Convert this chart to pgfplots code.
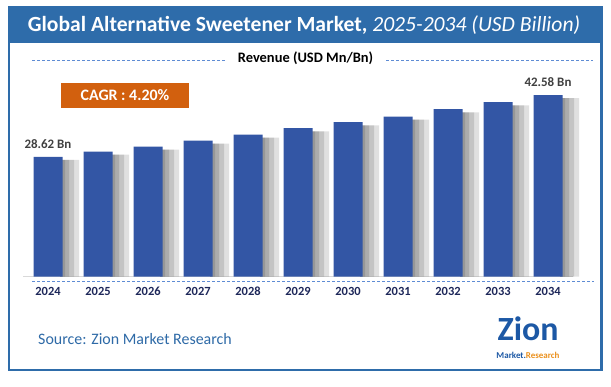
\documentclass[border=0pt]{standalone}
\usepackage{pgfplots}
\pgfplotsset{compat=1.18}
\usepackage{pgfplotstable}
\usepackage{fontspec}
\setmainfont{Carlito}
\definecolor{frameblue}{RGB}{46,108,170}
\definecolor{barblue}{RGB}{51,86,165}
\definecolor{cagr}{RGB}{210,96,14}
\definecolor{dashblue}{RGB}{95,140,212}
\definecolor{yearcol}{RGB}{30,40,90}
\definecolor{srccol}{RGB}{46,106,167}
\definecolor{logoblue}{RGB}{28,88,165}
\definecolor{logoorange}{RGB}{235,145,30}
\definecolor{labgray}{RGB}{64,64,64}

\pgfplotstableread{
x year v
0 2024 28.62
1 2025 29.78
2 2026 30.91
3 2027 32.27
4 2028 33.63
5 2029 35.07
6 2030 36.43
7 2031 37.70
8 2032 39.37
9 2033 40.96
10 2034 42.58
}\data

\pgfplotstableread[col sep=comma]{
x,v,lab
0,28.62,28.62 Bn
10,42.58,42.58 Bn
}\labs

\pgfplotsset{shadowbar/.style={ybar, draw=none, fill=black, fill opacity=0.12}}

\begin{document}
\begin{tikzpicture}[x=1bp,y=1bp]
\useasboundingbox (0,0) rectangle (611,386);
\fill[white] (0,0) rectangle (611,386);
\fill[frameblue] (9,343.3) rectangle (601.7,379);
\draw[frameblue, line width=2.5bp] (9,16) rectangle (601.7,379);
\node[anchor=west, inner sep=0, text=white] at (27.7,361)
  {\fontsize{21.7}{25}\selectfont\bfseries Global Alternative Sweetener Market, \mdseries\itshape 2025-2034 (USD Billion)};

\node[font=\fontsize{14.5}{17}\selectfont\bfseries] at (305.5,327.7) {Revenue (USD Mn/Bn)};
\draw[dashblue, dash pattern=on 3bp off 2bp, line width=0.8bp] (32,325.3) -- (225,325.3);
\draw[dashblue, dash pattern=on 3bp off 2bp, line width=0.8bp] (386,325.3) -- (593,325.3);

\fill[cagr] (61,278.3) rectangle (189,302.7);
\node[text=white, font=\fontsize{16}{18}\selectfont\bfseries] at (125,290.5) {CAGR : 4.20\%};

\begin{axis}[
  at={(23bp,109.3bp)}, anchor=south west,
  scale only axis, width=550bp, height=216.7bp,
  xmin=-0.5, xmax=10.5, ymin=1.5, ymax=50.5,
  axis y line=none, axis x line*=bottom,
  x axis line style={draw=black!15, line width=0.8bp, -},
  xtick={0,...,10},
  xticklabels={2024,2025,2026,2027,2028,2029,2030,2031,2032,2033,2034},
  major tick length=0,
  xticklabel style={font=\fontsize{12.5}{14}\selectfont\bfseries, text=yearcol, yshift=-7bp},
  clip=false,
]
\addplot[shadowbar, bar width=19bp, bar shift=21.5bp] table[x=x, y expr=\thisrow{v}-0.7] {\data};
\addplot[shadowbar, bar width=14bp, bar shift=19bp] table[x=x, y expr=\thisrow{v}-0.7] {\data};
\addplot[shadowbar, bar width=9bp, bar shift=16.5bp] table[x=x, y expr=\thisrow{v}-0.7] {\data};
\addplot[shadowbar, bar width=5bp, bar shift=14.5bp] table[x=x, y expr=\thisrow{v}-0.7] {\data};
\addplot[ybar, bar width=29bp, bar shift=0pt, fill=barblue, draw=none]
  table[x=x, y=v] {\data};
\addplot[draw=none, mark=none, nodes near coords, point meta=explicit symbolic,
  nodes near coords style={anchor=south, inner sep=0, yshift=8bp, text=labgray, font=\fontsize{13}{15}\selectfont\bfseries}]
  table[x=x, y=v, meta=lab] {\labs};
\end{axis}

\draw[dashblue, dash pattern=on 3bp off 2bp, line width=0.8bp] (32,105) -- (594,105);

\node[anchor=west, inner sep=0, text=srccol, font=\fontsize{16}{18}\selectfont] at (38,47) {Source: Zion Market Research};

\node[anchor=base, text=logoblue, font=\fontsize{34}{36}\selectfont\bfseries, inner sep=0] at (528,46) {Zion};
\node[font=\fontsize{9}{10}\selectfont\bfseries, inner sep=0] at (528,31) {\textcolor{logoblue}{Market.}\textcolor{logoorange}{Research}};
\end{tikzpicture}
\end{document}
